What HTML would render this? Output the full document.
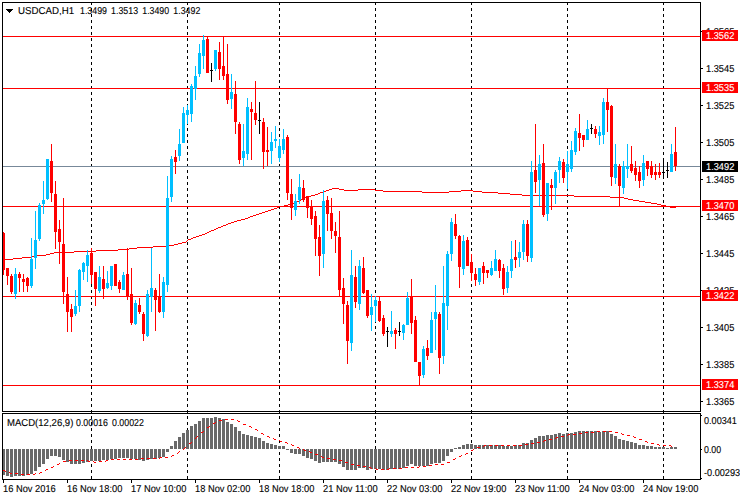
<!DOCTYPE html>
<html><head><meta charset="utf-8"><title>USDCAD,H1</title>
<style>
html,body{margin:0;padding:0;background:#fff;}
body{width:740px;height:500px;position:relative;overflow:hidden;font-family:"Liberation Sans",sans-serif;}
svg{position:absolute;left:0;top:0;}
.t{position:absolute;font-size:10px;line-height:10px;height:10px;margin-top:-0.5px;text-rendering:geometricPrecision;-webkit-text-stroke:0.12px;white-space:pre;transform-origin:0 0;}
.b{position:absolute;left:702px;width:36px;height:11px;}
</style></head><body>
<svg width="740" height="500" viewBox="0 0 740 500" shape-rendering="crispEdges">
<path d="M91.5 2V479" stroke="#000" stroke-width="1" stroke-dasharray="3 3" fill="none"/>
<path d="M187.5 2V479" stroke="#000" stroke-width="1" stroke-dasharray="3 3" fill="none"/>
<path d="M279.5 2V479" stroke="#000" stroke-width="1" stroke-dasharray="3 3" fill="none"/>
<path d="M375.5 2V479" stroke="#000" stroke-width="1" stroke-dasharray="3 3" fill="none"/>
<path d="M471.5 2V479" stroke="#000" stroke-width="1" stroke-dasharray="3 3" fill="none"/>
<path d="M567.5 2V479" stroke="#000" stroke-width="1" stroke-dasharray="3 3" fill="none"/>
<path d="M663.5 2V479" stroke="#000" stroke-width="1" stroke-dasharray="3 3" fill="none"/>
<rect x="3" y="36" width="697" height="1" fill="#f00"/>
<rect x="3" y="88" width="697" height="1" fill="#f00"/>
<rect x="3" y="206" width="697" height="1" fill="#f00"/>
<rect x="3" y="296" width="697" height="1" fill="#f00"/>
<rect x="3" y="385" width="697" height="1" fill="#f00"/>
<rect x="3" y="166" width="697" height="1" fill="#778899"/>
<rect x="3" y="259" width="10" height="1" fill="#f00"/>
<rect x="13" y="258" width="9" height="1" fill="#f00"/>
<rect x="22" y="257" width="10" height="1" fill="#f00"/>
<rect x="32" y="256" width="5" height="1" fill="#f00"/>
<rect x="37" y="255" width="9" height="1" fill="#f00"/>
<rect x="46" y="254" width="4" height="1" fill="#f00"/>
<rect x="50" y="253" width="4" height="1" fill="#f00"/>
<rect x="54" y="252" width="20" height="1" fill="#f00"/>
<rect x="74" y="251" width="22" height="1" fill="#f00"/>
<rect x="96" y="250" width="22" height="1" fill="#f00"/>
<rect x="118" y="249" width="11" height="1" fill="#f00"/>
<rect x="129" y="248" width="8" height="1" fill="#f00"/>
<rect x="137" y="247" width="16" height="1" fill="#f00"/>
<rect x="153" y="246" width="13" height="1" fill="#f00"/>
<rect x="166" y="245" width="8" height="1" fill="#f00"/>
<rect x="174" y="244" width="4" height="1" fill="#f00"/>
<rect x="178" y="243" width="4" height="1" fill="#f00"/>
<rect x="182" y="242" width="4" height="1" fill="#f00"/>
<rect x="186" y="241" width="1" height="1" fill="#f00"/>
<rect x="187" y="240" width="1" height="1" fill="#f00"/>
<rect x="188" y="239" width="3" height="1" fill="#f00"/>
<rect x="191" y="238" width="2" height="1" fill="#f00"/>
<rect x="193" y="237" width="3" height="1" fill="#f00"/>
<rect x="196" y="236" width="3" height="1" fill="#f00"/>
<rect x="199" y="235" width="3" height="1" fill="#f00"/>
<rect x="202" y="234" width="3" height="1" fill="#f00"/>
<rect x="205" y="233" width="2" height="1" fill="#f00"/>
<rect x="207" y="232" width="2" height="1" fill="#f00"/>
<rect x="209" y="231" width="2" height="1" fill="#f00"/>
<rect x="211" y="230" width="3" height="1" fill="#f00"/>
<rect x="214" y="229" width="2" height="1" fill="#f00"/>
<rect x="216" y="228" width="2" height="1" fill="#f00"/>
<rect x="218" y="227" width="3" height="1" fill="#f00"/>
<rect x="221" y="226" width="2" height="1" fill="#f00"/>
<rect x="223" y="225" width="3" height="1" fill="#f00"/>
<rect x="226" y="224" width="2" height="1" fill="#f00"/>
<rect x="228" y="223" width="3" height="1" fill="#f00"/>
<rect x="231" y="222" width="3" height="1" fill="#f00"/>
<rect x="234" y="221" width="3" height="1" fill="#f00"/>
<rect x="237" y="220" width="4" height="1" fill="#f00"/>
<rect x="241" y="219" width="4" height="1" fill="#f00"/>
<rect x="245" y="218" width="3" height="1" fill="#f00"/>
<rect x="248" y="217" width="2" height="1" fill="#f00"/>
<rect x="250" y="216" width="3" height="1" fill="#f00"/>
<rect x="253" y="215" width="3" height="1" fill="#f00"/>
<rect x="256" y="214" width="3" height="1" fill="#f00"/>
<rect x="259" y="213" width="3" height="1" fill="#f00"/>
<rect x="262" y="212" width="3" height="1" fill="#f00"/>
<rect x="265" y="211" width="3" height="1" fill="#f00"/>
<rect x="268" y="210" width="3" height="1" fill="#f00"/>
<rect x="271" y="209" width="3" height="1" fill="#f00"/>
<rect x="274" y="208" width="3" height="1" fill="#f00"/>
<rect x="277" y="207" width="2" height="1" fill="#f00"/>
<rect x="279" y="206" width="5" height="1" fill="#f00"/>
<rect x="284" y="205" width="4" height="1" fill="#f00"/>
<rect x="288" y="204" width="3" height="1" fill="#f00"/>
<rect x="291" y="203" width="3" height="1" fill="#f00"/>
<rect x="294" y="202" width="3" height="1" fill="#f00"/>
<rect x="297" y="201" width="2" height="1" fill="#f00"/>
<rect x="299" y="200" width="2" height="1" fill="#f00"/>
<rect x="301" y="199" width="2" height="1" fill="#f00"/>
<rect x="303" y="198" width="2" height="1" fill="#f00"/>
<rect x="305" y="197" width="2" height="1" fill="#f00"/>
<rect x="307" y="196" width="4" height="1" fill="#f00"/>
<rect x="311" y="195" width="4" height="1" fill="#f00"/>
<rect x="315" y="194" width="3" height="1" fill="#f00"/>
<rect x="318" y="193" width="2" height="1" fill="#f00"/>
<rect x="320" y="192" width="3" height="1" fill="#f00"/>
<rect x="323" y="191" width="3" height="1" fill="#f00"/>
<rect x="326" y="190" width="3" height="1" fill="#f00"/>
<rect x="329" y="189" width="3" height="1" fill="#f00"/>
<rect x="332" y="188" width="7" height="1" fill="#f00"/>
<rect x="339" y="189" width="5" height="1" fill="#f00"/>
<rect x="344" y="190" width="14" height="1" fill="#f00"/>
<rect x="358" y="189" width="17" height="1" fill="#f00"/>
<rect x="375" y="190" width="8" height="1" fill="#f00"/>
<rect x="383" y="191" width="39" height="1" fill="#f00"/>
<rect x="422" y="192" width="27" height="1" fill="#f00"/>
<rect x="449" y="191" width="12" height="1" fill="#f00"/>
<rect x="461" y="190" width="12" height="1" fill="#f00"/>
<rect x="473" y="191" width="9" height="1" fill="#f00"/>
<rect x="482" y="192" width="16" height="1" fill="#f00"/>
<rect x="498" y="193" width="12" height="1" fill="#f00"/>
<rect x="510" y="194" width="12" height="1" fill="#f00"/>
<rect x="522" y="195" width="52" height="1" fill="#f00"/>
<rect x="574" y="196" width="36" height="1" fill="#f00"/>
<rect x="610" y="197" width="14" height="1" fill="#f00"/>
<rect x="624" y="198" width="4" height="1" fill="#f00"/>
<rect x="628" y="199" width="5" height="1" fill="#f00"/>
<rect x="633" y="200" width="6" height="1" fill="#f00"/>
<rect x="639" y="201" width="6" height="1" fill="#f00"/>
<rect x="645" y="202" width="6" height="1" fill="#f00"/>
<rect x="651" y="203" width="6" height="1" fill="#f00"/>
<rect x="657" y="204" width="4" height="1" fill="#f00"/>
<rect x="661" y="205" width="5" height="1" fill="#f00"/>
<rect x="666" y="206" width="4" height="1" fill="#f00"/>
<rect x="670" y="207" width="6" height="1" fill="#f00"/>
<rect x="3" y="232" width="1" height="43" fill="#f00"/>
<rect x="2" y="233" width="3" height="37" fill="#f00"/>
<rect x="7" y="268" width="1" height="17" fill="#f00"/>
<rect x="6" y="268" width="3" height="8" fill="#f00"/>
<rect x="11" y="274" width="1" height="20" fill="#f00"/>
<rect x="10" y="276" width="3" height="16" fill="#f00"/>
<rect x="15" y="268" width="1" height="31" fill="#00bfff"/>
<rect x="14" y="274" width="3" height="20" fill="#00bfff"/>
<rect x="19" y="272" width="1" height="20" fill="#f00"/>
<rect x="18" y="274" width="3" height="4" fill="#f00"/>
<rect x="23" y="274" width="1" height="18" fill="#f00"/>
<rect x="22" y="279" width="3" height="3" fill="#f00"/>
<rect x="27" y="277" width="1" height="15" fill="#f00"/>
<rect x="26" y="278" width="3" height="8" fill="#f00"/>
<rect x="31" y="238" width="1" height="50" fill="#00bfff"/>
<rect x="30" y="259" width="3" height="27" fill="#00bfff"/>
<rect x="35" y="211" width="1" height="58" fill="#00bfff"/>
<rect x="34" y="240" width="3" height="18" fill="#00bfff"/>
<rect x="39" y="203" width="1" height="38" fill="#00bfff"/>
<rect x="38" y="205" width="3" height="34" fill="#00bfff"/>
<rect x="43" y="181" width="1" height="33" fill="#00bfff"/>
<rect x="42" y="200" width="3" height="4" fill="#00bfff"/>
<rect x="47" y="159" width="1" height="41" fill="#00bfff"/>
<rect x="46" y="159" width="3" height="40" fill="#00bfff"/>
<rect x="51" y="144" width="1" height="58" fill="#f00"/>
<rect x="50" y="161" width="3" height="32" fill="#f00"/>
<rect x="55" y="181" width="1" height="68" fill="#f00"/>
<rect x="54" y="194" width="3" height="38" fill="#f00"/>
<rect x="59" y="220" width="1" height="44" fill="#f00"/>
<rect x="58" y="229" width="3" height="13" fill="#f00"/>
<rect x="63" y="198" width="1" height="106" fill="#f00"/>
<rect x="62" y="244" width="3" height="48" fill="#f00"/>
<rect x="67" y="277" width="1" height="55" fill="#f00"/>
<rect x="66" y="294" width="3" height="18" fill="#f00"/>
<rect x="71" y="304" width="1" height="28" fill="#f00"/>
<rect x="70" y="309" width="3" height="8" fill="#f00"/>
<rect x="75" y="290" width="1" height="26" fill="#00bfff"/>
<rect x="74" y="306" width="3" height="8" fill="#00bfff"/>
<rect x="79" y="269" width="1" height="43" fill="#00bfff"/>
<rect x="78" y="270" width="3" height="36" fill="#00bfff"/>
<rect x="83" y="262" width="1" height="18" fill="#00bfff"/>
<rect x="82" y="263" width="3" height="9" fill="#00bfff"/>
<rect x="87" y="250" width="1" height="32" fill="#00bfff"/>
<rect x="86" y="255" width="3" height="11" fill="#00bfff"/>
<rect x="91" y="248" width="1" height="36" fill="#f00"/>
<rect x="90" y="253" width="3" height="22" fill="#f00"/>
<rect x="95" y="272" width="1" height="34" fill="#f00"/>
<rect x="94" y="272" width="3" height="17" fill="#f00"/>
<rect x="99" y="266" width="1" height="27" fill="#00bfff"/>
<rect x="98" y="277" width="3" height="14" fill="#00bfff"/>
<rect x="103" y="266" width="1" height="33" fill="#f00"/>
<rect x="102" y="279" width="3" height="10" fill="#f00"/>
<rect x="107" y="271" width="1" height="18" fill="#00bfff"/>
<rect x="106" y="283" width="3" height="5" fill="#00bfff"/>
<rect x="111" y="266" width="1" height="24" fill="#00bfff"/>
<rect x="110" y="266" width="3" height="20" fill="#00bfff"/>
<rect x="115" y="264" width="1" height="22" fill="#f00"/>
<rect x="114" y="264" width="3" height="22" fill="#f00"/>
<rect x="119" y="280" width="1" height="13" fill="#f00"/>
<rect x="118" y="282" width="3" height="7" fill="#f00"/>
<rect x="123" y="272" width="1" height="18" fill="#00bfff"/>
<rect x="122" y="275" width="3" height="15" fill="#00bfff"/>
<rect x="127" y="248" width="1" height="52" fill="#f00"/>
<rect x="126" y="274" width="3" height="22" fill="#f00"/>
<rect x="131" y="268" width="1" height="57" fill="#f00"/>
<rect x="130" y="294" width="3" height="29" fill="#f00"/>
<rect x="135" y="300" width="1" height="25" fill="#00bfff"/>
<rect x="134" y="303" width="3" height="21" fill="#00bfff"/>
<rect x="139" y="298" width="1" height="16" fill="#f00"/>
<rect x="138" y="305" width="3" height="7" fill="#f00"/>
<rect x="143" y="312" width="1" height="29" fill="#f00"/>
<rect x="142" y="314" width="3" height="20" fill="#f00"/>
<rect x="147" y="290" width="1" height="47" fill="#00bfff"/>
<rect x="146" y="294" width="3" height="42" fill="#00bfff"/>
<rect x="151" y="248" width="1" height="64" fill="#00bfff"/>
<rect x="150" y="288" width="3" height="9" fill="#00bfff"/>
<rect x="155" y="288" width="1" height="43" fill="#f00"/>
<rect x="154" y="290" width="3" height="10" fill="#f00"/>
<rect x="159" y="274" width="1" height="39" fill="#f00"/>
<rect x="158" y="297" width="3" height="15" fill="#f00"/>
<rect x="163" y="277" width="1" height="41" fill="#00bfff"/>
<rect x="162" y="282" width="3" height="30" fill="#00bfff"/>
<rect x="167" y="176" width="1" height="116" fill="#00bfff"/>
<rect x="166" y="198" width="3" height="87" fill="#00bfff"/>
<rect x="171" y="156" width="1" height="46" fill="#00bfff"/>
<rect x="170" y="159" width="3" height="38" fill="#00bfff"/>
<rect x="175" y="150" width="1" height="24" fill="#f00"/>
<rect x="174" y="157" width="3" height="5" fill="#f00"/>
<rect x="179" y="129" width="1" height="32" fill="#00bfff"/>
<rect x="178" y="144" width="3" height="12" fill="#00bfff"/>
<rect x="183" y="107" width="1" height="36" fill="#00bfff"/>
<rect x="182" y="113" width="3" height="30" fill="#00bfff"/>
<rect x="187" y="105" width="1" height="19" fill="#00bfff"/>
<rect x="186" y="110" width="3" height="5" fill="#00bfff"/>
<rect x="191" y="84" width="1" height="38" fill="#00bfff"/>
<rect x="190" y="86" width="3" height="28" fill="#00bfff"/>
<rect x="195" y="66" width="1" height="34" fill="#00bfff"/>
<rect x="194" y="76" width="3" height="13" fill="#00bfff"/>
<rect x="199" y="44" width="1" height="33" fill="#00bfff"/>
<rect x="198" y="53" width="3" height="21" fill="#00bfff"/>
<rect x="203" y="35" width="1" height="34" fill="#00bfff"/>
<rect x="202" y="40" width="3" height="16" fill="#00bfff"/>
<rect x="207" y="36" width="1" height="37" fill="#f00"/>
<rect x="206" y="39" width="3" height="34" fill="#f00"/>
<rect x="211" y="63" width="1" height="19" fill="#000"/>
<rect x="210" y="70" width="3" height="1" fill="#000"/>
<rect x="215" y="50" width="1" height="21" fill="#00bfff"/>
<rect x="214" y="50" width="3" height="19" fill="#00bfff"/>
<rect x="219" y="42" width="1" height="38" fill="#f00"/>
<rect x="218" y="52" width="3" height="17" fill="#f00"/>
<rect x="223" y="36" width="1" height="44" fill="#f00"/>
<rect x="222" y="66" width="3" height="10" fill="#f00"/>
<rect x="227" y="44" width="1" height="60" fill="#f00"/>
<rect x="226" y="74" width="3" height="26" fill="#f00"/>
<rect x="231" y="74" width="1" height="35" fill="#00bfff"/>
<rect x="230" y="92" width="3" height="7" fill="#00bfff"/>
<rect x="235" y="81" width="1" height="53" fill="#f00"/>
<rect x="234" y="94" width="3" height="28" fill="#f00"/>
<rect x="239" y="122" width="1" height="42" fill="#f00"/>
<rect x="238" y="124" width="3" height="36" fill="#f00"/>
<rect x="243" y="124" width="1" height="42" fill="#00bfff"/>
<rect x="242" y="151" width="3" height="7" fill="#00bfff"/>
<rect x="247" y="98" width="1" height="62" fill="#00bfff"/>
<rect x="246" y="107" width="3" height="47" fill="#00bfff"/>
<rect x="251" y="102" width="1" height="58" fill="#f00"/>
<rect x="250" y="109" width="3" height="3" fill="#f00"/>
<rect x="255" y="81" width="1" height="44" fill="#f00"/>
<rect x="254" y="113" width="3" height="7" fill="#f00"/>
<rect x="259" y="102" width="1" height="32" fill="#000"/>
<rect x="258" y="120" width="3" height="1" fill="#000"/>
<rect x="263" y="118" width="1" height="51" fill="#f00"/>
<rect x="262" y="122" width="3" height="30" fill="#f00"/>
<rect x="267" y="127" width="1" height="39" fill="#f00"/>
<rect x="266" y="150" width="3" height="2" fill="#f00"/>
<rect x="271" y="132" width="1" height="32" fill="#00bfff"/>
<rect x="270" y="142" width="3" height="9" fill="#00bfff"/>
<rect x="275" y="126" width="1" height="22" fill="#00bfff"/>
<rect x="274" y="139" width="3" height="2" fill="#00bfff"/>
<rect x="279" y="139" width="1" height="23" fill="#00bfff"/>
<rect x="278" y="146" width="3" height="12" fill="#00bfff"/>
<rect x="283" y="129" width="1" height="25" fill="#00bfff"/>
<rect x="282" y="139" width="3" height="11" fill="#00bfff"/>
<rect x="287" y="135" width="1" height="65" fill="#f00"/>
<rect x="286" y="137" width="3" height="56" fill="#f00"/>
<rect x="291" y="179" width="1" height="41" fill="#f00"/>
<rect x="290" y="194" width="3" height="14" fill="#f00"/>
<rect x="295" y="194" width="1" height="22" fill="#00bfff"/>
<rect x="294" y="201" width="3" height="9" fill="#00bfff"/>
<rect x="299" y="174" width="1" height="30" fill="#00bfff"/>
<rect x="298" y="187" width="3" height="13" fill="#00bfff"/>
<rect x="303" y="180" width="1" height="22" fill="#f00"/>
<rect x="302" y="188" width="3" height="12" fill="#f00"/>
<rect x="307" y="196" width="1" height="22" fill="#f00"/>
<rect x="306" y="196" width="3" height="12" fill="#f00"/>
<rect x="311" y="200" width="1" height="25" fill="#f00"/>
<rect x="310" y="207" width="3" height="12" fill="#f00"/>
<rect x="315" y="211" width="1" height="45" fill="#f00"/>
<rect x="314" y="216" width="3" height="23" fill="#f00"/>
<rect x="319" y="225" width="1" height="51" fill="#f00"/>
<rect x="318" y="237" width="3" height="19" fill="#f00"/>
<rect x="323" y="190" width="1" height="78" fill="#00bfff"/>
<rect x="322" y="201" width="3" height="53" fill="#00bfff"/>
<rect x="327" y="196" width="1" height="35" fill="#f00"/>
<rect x="326" y="200" width="3" height="14" fill="#f00"/>
<rect x="331" y="198" width="1" height="41" fill="#f00"/>
<rect x="330" y="213" width="3" height="18" fill="#f00"/>
<rect x="335" y="222" width="1" height="31" fill="#f00"/>
<rect x="334" y="231" width="3" height="5" fill="#f00"/>
<rect x="339" y="211" width="1" height="85" fill="#f00"/>
<rect x="338" y="237" width="3" height="53" fill="#f00"/>
<rect x="343" y="278" width="1" height="46" fill="#f00"/>
<rect x="342" y="288" width="3" height="16" fill="#f00"/>
<rect x="347" y="301" width="1" height="63" fill="#f00"/>
<rect x="346" y="305" width="3" height="36" fill="#f00"/>
<rect x="351" y="250" width="1" height="101" fill="#00bfff"/>
<rect x="350" y="275" width="3" height="68" fill="#00bfff"/>
<rect x="355" y="266" width="1" height="42" fill="#f00"/>
<rect x="354" y="277" width="3" height="25" fill="#f00"/>
<rect x="359" y="260" width="1" height="50" fill="#00bfff"/>
<rect x="358" y="266" width="3" height="38" fill="#00bfff"/>
<rect x="363" y="257" width="1" height="37" fill="#f00"/>
<rect x="362" y="268" width="3" height="25" fill="#f00"/>
<rect x="367" y="290" width="1" height="28" fill="#f00"/>
<rect x="366" y="290" width="3" height="26" fill="#f00"/>
<rect x="371" y="294" width="1" height="37" fill="#00bfff"/>
<rect x="370" y="307" width="3" height="8" fill="#00bfff"/>
<rect x="375" y="296" width="1" height="26" fill="#00bfff"/>
<rect x="374" y="300" width="3" height="6" fill="#00bfff"/>
<rect x="379" y="297" width="1" height="25" fill="#f00"/>
<rect x="378" y="301" width="3" height="20" fill="#f00"/>
<rect x="383" y="315" width="1" height="21" fill="#f00"/>
<rect x="382" y="318" width="3" height="16" fill="#f00"/>
<rect x="387" y="327" width="1" height="20" fill="#000"/>
<rect x="386" y="331" width="3" height="1" fill="#000"/>
<rect x="391" y="311" width="1" height="26" fill="#00bfff"/>
<rect x="390" y="331" width="3" height="3" fill="#00bfff"/>
<rect x="395" y="328" width="1" height="21" fill="#f00"/>
<rect x="394" y="330" width="3" height="4" fill="#f00"/>
<rect x="399" y="322" width="1" height="14" fill="#000"/>
<rect x="398" y="331" width="3" height="1" fill="#000"/>
<rect x="403" y="324" width="1" height="16" fill="#00bfff"/>
<rect x="402" y="325" width="3" height="8" fill="#00bfff"/>
<rect x="407" y="292" width="1" height="33" fill="#00bfff"/>
<rect x="406" y="298" width="3" height="27" fill="#00bfff"/>
<rect x="411" y="279" width="1" height="55" fill="#f00"/>
<rect x="410" y="297" width="3" height="26" fill="#f00"/>
<rect x="415" y="316" width="1" height="46" fill="#f00"/>
<rect x="414" y="320" width="3" height="42" fill="#f00"/>
<rect x="419" y="362" width="1" height="23" fill="#f00"/>
<rect x="418" y="362" width="3" height="14" fill="#f00"/>
<rect x="423" y="346" width="1" height="32" fill="#00bfff"/>
<rect x="422" y="349" width="3" height="26" fill="#00bfff"/>
<rect x="427" y="340" width="1" height="20" fill="#f00"/>
<rect x="426" y="348" width="3" height="8" fill="#f00"/>
<rect x="431" y="312" width="1" height="41" fill="#00bfff"/>
<rect x="430" y="320" width="3" height="33" fill="#00bfff"/>
<rect x="435" y="285" width="1" height="65" fill="#00bfff"/>
<rect x="434" y="312" width="3" height="7" fill="#00bfff"/>
<rect x="439" y="312" width="1" height="62" fill="#f00"/>
<rect x="438" y="314" width="3" height="44" fill="#f00"/>
<rect x="443" y="266" width="1" height="98" fill="#00bfff"/>
<rect x="442" y="303" width="3" height="53" fill="#00bfff"/>
<rect x="447" y="251" width="1" height="79" fill="#00bfff"/>
<rect x="446" y="254" width="3" height="52" fill="#00bfff"/>
<rect x="451" y="218" width="1" height="43" fill="#00bfff"/>
<rect x="450" y="222" width="3" height="32" fill="#00bfff"/>
<rect x="455" y="214" width="1" height="25" fill="#f00"/>
<rect x="454" y="224" width="3" height="12" fill="#f00"/>
<rect x="459" y="235" width="1" height="53" fill="#f00"/>
<rect x="458" y="236" width="3" height="31" fill="#f00"/>
<rect x="463" y="235" width="1" height="40" fill="#00bfff"/>
<rect x="462" y="241" width="3" height="28" fill="#00bfff"/>
<rect x="467" y="237" width="1" height="29" fill="#f00"/>
<rect x="466" y="240" width="3" height="26" fill="#f00"/>
<rect x="471" y="254" width="1" height="27" fill="#f00"/>
<rect x="470" y="262" width="3" height="11" fill="#f00"/>
<rect x="475" y="268" width="1" height="18" fill="#f00"/>
<rect x="474" y="274" width="3" height="6" fill="#f00"/>
<rect x="479" y="268" width="1" height="17" fill="#00bfff"/>
<rect x="478" y="268" width="3" height="14" fill="#00bfff"/>
<rect x="483" y="262" width="1" height="22" fill="#f00"/>
<rect x="482" y="266" width="3" height="7" fill="#f00"/>
<rect x="487" y="270" width="1" height="8" fill="#f00"/>
<rect x="486" y="270" width="3" height="3" fill="#f00"/>
<rect x="491" y="261" width="1" height="15" fill="#00bfff"/>
<rect x="490" y="268" width="3" height="7" fill="#00bfff"/>
<rect x="495" y="250" width="1" height="21" fill="#00bfff"/>
<rect x="494" y="259" width="3" height="12" fill="#00bfff"/>
<rect x="499" y="259" width="1" height="19" fill="#f00"/>
<rect x="498" y="260" width="3" height="11" fill="#f00"/>
<rect x="503" y="264" width="1" height="31" fill="#f00"/>
<rect x="502" y="268" width="3" height="21" fill="#f00"/>
<rect x="507" y="266" width="1" height="27" fill="#00bfff"/>
<rect x="506" y="272" width="3" height="16" fill="#00bfff"/>
<rect x="511" y="241" width="1" height="37" fill="#00bfff"/>
<rect x="510" y="259" width="3" height="12" fill="#00bfff"/>
<rect x="515" y="240" width="1" height="28" fill="#f00"/>
<rect x="514" y="257" width="3" height="3" fill="#f00"/>
<rect x="519" y="242" width="1" height="25" fill="#00bfff"/>
<rect x="518" y="252" width="3" height="6" fill="#00bfff"/>
<rect x="523" y="220" width="1" height="40" fill="#00bfff"/>
<rect x="522" y="224" width="3" height="28" fill="#00bfff"/>
<rect x="527" y="220" width="1" height="42" fill="#f00"/>
<rect x="526" y="224" width="3" height="32" fill="#f00"/>
<rect x="531" y="161" width="1" height="101" fill="#00bfff"/>
<rect x="530" y="172" width="3" height="86" fill="#00bfff"/>
<rect x="535" y="124" width="1" height="69" fill="#f00"/>
<rect x="534" y="170" width="3" height="12" fill="#f00"/>
<rect x="539" y="155" width="1" height="51" fill="#00bfff"/>
<rect x="538" y="164" width="3" height="16" fill="#00bfff"/>
<rect x="543" y="144" width="1" height="73" fill="#f00"/>
<rect x="542" y="163" width="3" height="52" fill="#f00"/>
<rect x="547" y="183" width="1" height="38" fill="#00bfff"/>
<rect x="546" y="183" width="3" height="31" fill="#00bfff"/>
<rect x="551" y="179" width="1" height="31" fill="#f00"/>
<rect x="550" y="185" width="3" height="3" fill="#f00"/>
<rect x="555" y="170" width="1" height="34" fill="#00bfff"/>
<rect x="554" y="172" width="3" height="16" fill="#00bfff"/>
<rect x="559" y="157" width="1" height="26" fill="#00bfff"/>
<rect x="558" y="161" width="3" height="9" fill="#00bfff"/>
<rect x="563" y="159" width="1" height="24" fill="#f00"/>
<rect x="562" y="162" width="3" height="16" fill="#f00"/>
<rect x="567" y="151" width="1" height="38" fill="#00bfff"/>
<rect x="566" y="164" width="3" height="8" fill="#00bfff"/>
<rect x="571" y="141" width="1" height="31" fill="#00bfff"/>
<rect x="570" y="150" width="3" height="19" fill="#00bfff"/>
<rect x="575" y="128" width="1" height="27" fill="#00bfff"/>
<rect x="574" y="131" width="3" height="21" fill="#00bfff"/>
<rect x="579" y="114" width="1" height="37" fill="#f00"/>
<rect x="578" y="133" width="3" height="5" fill="#f00"/>
<rect x="583" y="135" width="1" height="12" fill="#f00"/>
<rect x="582" y="135" width="3" height="5" fill="#f00"/>
<rect x="587" y="120" width="1" height="20" fill="#00bfff"/>
<rect x="586" y="129" width="3" height="11" fill="#00bfff"/>
<rect x="591" y="124" width="1" height="10" fill="#000"/>
<rect x="590" y="128" width="3" height="1" fill="#000"/>
<rect x="595" y="126" width="1" height="12" fill="#f00"/>
<rect x="594" y="129" width="3" height="5" fill="#f00"/>
<rect x="599" y="126" width="1" height="19" fill="#00bfff"/>
<rect x="598" y="132" width="3" height="4" fill="#00bfff"/>
<rect x="603" y="98" width="1" height="46" fill="#00bfff"/>
<rect x="602" y="102" width="3" height="33" fill="#00bfff"/>
<rect x="607" y="89" width="1" height="43" fill="#f00"/>
<rect x="606" y="102" width="3" height="8" fill="#f00"/>
<rect x="611" y="105" width="1" height="81" fill="#f00"/>
<rect x="610" y="106" width="3" height="71" fill="#f00"/>
<rect x="615" y="144" width="1" height="40" fill="#00bfff"/>
<rect x="614" y="164" width="3" height="14" fill="#00bfff"/>
<rect x="619" y="164" width="1" height="42" fill="#f00"/>
<rect x="618" y="166" width="3" height="20" fill="#f00"/>
<rect x="623" y="161" width="1" height="33" fill="#00bfff"/>
<rect x="622" y="166" width="3" height="22" fill="#00bfff"/>
<rect x="627" y="144" width="1" height="34" fill="#00bfff"/>
<rect x="626" y="166" width="3" height="3" fill="#00bfff"/>
<rect x="631" y="146" width="1" height="27" fill="#f00"/>
<rect x="630" y="164" width="3" height="7" fill="#f00"/>
<rect x="635" y="161" width="1" height="20" fill="#f00"/>
<rect x="634" y="168" width="3" height="7" fill="#f00"/>
<rect x="639" y="166" width="1" height="22" fill="#f00"/>
<rect x="638" y="172" width="3" height="9" fill="#f00"/>
<rect x="643" y="155" width="1" height="31" fill="#00bfff"/>
<rect x="642" y="163" width="3" height="17" fill="#00bfff"/>
<rect x="647" y="161" width="1" height="15" fill="#f00"/>
<rect x="646" y="161" width="3" height="8" fill="#f00"/>
<rect x="651" y="161" width="1" height="17" fill="#f00"/>
<rect x="650" y="166" width="3" height="9" fill="#f00"/>
<rect x="655" y="164" width="1" height="16" fill="#f00"/>
<rect x="654" y="172" width="3" height="3" fill="#f00"/>
<rect x="659" y="163" width="1" height="15" fill="#f00"/>
<rect x="658" y="172" width="3" height="3" fill="#f00"/>
<rect x="663" y="158" width="1" height="21" fill="#000"/>
<rect x="662" y="172" width="3" height="1" fill="#000"/>
<rect x="667" y="162" width="1" height="16" fill="#000"/>
<rect x="666" y="170" width="3" height="1" fill="#000"/>
<rect x="671" y="144" width="1" height="28" fill="#00bfff"/>
<rect x="670" y="154" width="3" height="18" fill="#00bfff"/>
<rect x="675" y="127" width="1" height="44" fill="#f00"/>
<rect x="674" y="152" width="3" height="14" fill="#f00"/>
<rect x="2" y="449" width="3" height="26" fill="#696969"/>
<rect x="6" y="449" width="3" height="27" fill="#696969"/>
<rect x="10" y="449" width="3" height="28" fill="#696969"/>
<rect x="14" y="449" width="3" height="27" fill="#696969"/>
<rect x="18" y="449" width="3" height="27" fill="#696969"/>
<rect x="22" y="449" width="3" height="27" fill="#696969"/>
<rect x="26" y="449" width="3" height="26" fill="#696969"/>
<rect x="30" y="449" width="3" height="25" fill="#696969"/>
<rect x="34" y="449" width="3" height="22" fill="#696969"/>
<rect x="38" y="449" width="3" height="18" fill="#696969"/>
<rect x="42" y="449" width="3" height="15" fill="#696969"/>
<rect x="46" y="449" width="3" height="10" fill="#696969"/>
<rect x="50" y="449" width="3" height="7" fill="#696969"/>
<rect x="54" y="449" width="3" height="7" fill="#696969"/>
<rect x="58" y="449" width="3" height="8" fill="#696969"/>
<rect x="62" y="449" width="3" height="11" fill="#696969"/>
<rect x="66" y="449" width="3" height="13" fill="#696969"/>
<rect x="70" y="449" width="3" height="15" fill="#696969"/>
<rect x="74" y="449" width="3" height="15" fill="#696969"/>
<rect x="78" y="449" width="3" height="15" fill="#696969"/>
<rect x="82" y="449" width="3" height="14" fill="#696969"/>
<rect x="86" y="449" width="3" height="13" fill="#696969"/>
<rect x="90" y="449" width="3" height="12" fill="#696969"/>
<rect x="94" y="449" width="3" height="12" fill="#696969"/>
<rect x="98" y="449" width="3" height="12" fill="#696969"/>
<rect x="102" y="449" width="3" height="11" fill="#696969"/>
<rect x="106" y="449" width="3" height="11" fill="#696969"/>
<rect x="110" y="449" width="3" height="10" fill="#696969"/>
<rect x="114" y="449" width="3" height="10" fill="#696969"/>
<rect x="118" y="449" width="3" height="9" fill="#696969"/>
<rect x="122" y="449" width="3" height="9" fill="#696969"/>
<rect x="126" y="449" width="3" height="9" fill="#696969"/>
<rect x="130" y="449" width="3" height="10" fill="#696969"/>
<rect x="134" y="449" width="3" height="10" fill="#696969"/>
<rect x="138" y="449" width="3" height="11" fill="#696969"/>
<rect x="142" y="449" width="3" height="12" fill="#696969"/>
<rect x="146" y="449" width="3" height="11" fill="#696969"/>
<rect x="150" y="449" width="3" height="10" fill="#696969"/>
<rect x="154" y="449" width="3" height="10" fill="#696969"/>
<rect x="158" y="449" width="3" height="9" fill="#696969"/>
<rect x="162" y="449" width="3" height="8" fill="#696969"/>
<rect x="166" y="449" width="3" height="3" fill="#696969"/>
<rect x="170" y="446" width="3" height="3" fill="#696969"/>
<rect x="174" y="441" width="3" height="8" fill="#696969"/>
<rect x="178" y="437" width="3" height="12" fill="#696969"/>
<rect x="182" y="433" width="3" height="16" fill="#696969"/>
<rect x="186" y="430" width="3" height="19" fill="#696969"/>
<rect x="190" y="426" width="3" height="23" fill="#696969"/>
<rect x="194" y="424" width="3" height="25" fill="#696969"/>
<rect x="198" y="421" width="3" height="28" fill="#696969"/>
<rect x="202" y="418" width="3" height="31" fill="#696969"/>
<rect x="206" y="418" width="3" height="31" fill="#696969"/>
<rect x="210" y="418" width="3" height="31" fill="#696969"/>
<rect x="214" y="417" width="3" height="32" fill="#696969"/>
<rect x="218" y="418" width="3" height="31" fill="#696969"/>
<rect x="222" y="419" width="3" height="30" fill="#696969"/>
<rect x="226" y="422" width="3" height="27" fill="#696969"/>
<rect x="230" y="424" width="3" height="25" fill="#696969"/>
<rect x="234" y="427" width="3" height="22" fill="#696969"/>
<rect x="238" y="431" width="3" height="18" fill="#696969"/>
<rect x="242" y="434" width="3" height="15" fill="#696969"/>
<rect x="246" y="435" width="3" height="14" fill="#696969"/>
<rect x="250" y="436" width="3" height="13" fill="#696969"/>
<rect x="254" y="437" width="3" height="12" fill="#696969"/>
<rect x="258" y="438" width="3" height="11" fill="#696969"/>
<rect x="262" y="441" width="3" height="8" fill="#696969"/>
<rect x="266" y="443" width="3" height="6" fill="#696969"/>
<rect x="270" y="444" width="3" height="5" fill="#696969"/>
<rect x="274" y="445" width="3" height="4" fill="#696969"/>
<rect x="278" y="446" width="3" height="3" fill="#696969"/>
<rect x="282" y="446" width="3" height="3" fill="#696969"/>
<rect x="286" y="449" width="3" height="1" fill="#696969"/>
<rect x="290" y="449" width="3" height="4" fill="#696969"/>
<rect x="294" y="449" width="3" height="5" fill="#696969"/>
<rect x="298" y="449" width="3" height="5" fill="#696969"/>
<rect x="302" y="449" width="3" height="7" fill="#696969"/>
<rect x="306" y="449" width="3" height="9" fill="#696969"/>
<rect x="310" y="449" width="3" height="10" fill="#696969"/>
<rect x="314" y="449" width="3" height="12" fill="#696969"/>
<rect x="318" y="449" width="3" height="14" fill="#696969"/>
<rect x="322" y="449" width="3" height="13" fill="#696969"/>
<rect x="326" y="449" width="3" height="13" fill="#696969"/>
<rect x="330" y="449" width="3" height="13" fill="#696969"/>
<rect x="334" y="449" width="3" height="13" fill="#696969"/>
<rect x="338" y="449" width="3" height="15" fill="#696969"/>
<rect x="342" y="449" width="3" height="18" fill="#696969"/>
<rect x="346" y="449" width="3" height="21" fill="#696969"/>
<rect x="350" y="449" width="3" height="21" fill="#696969"/>
<rect x="354" y="449" width="3" height="21" fill="#696969"/>
<rect x="358" y="449" width="3" height="19" fill="#696969"/>
<rect x="362" y="449" width="3" height="19" fill="#696969"/>
<rect x="366" y="449" width="3" height="21" fill="#696969"/>
<rect x="370" y="449" width="3" height="20" fill="#696969"/>
<rect x="374" y="449" width="3" height="20" fill="#696969"/>
<rect x="378" y="449" width="3" height="20" fill="#696969"/>
<rect x="382" y="449" width="3" height="21" fill="#696969"/>
<rect x="386" y="449" width="3" height="21" fill="#696969"/>
<rect x="390" y="449" width="3" height="20" fill="#696969"/>
<rect x="394" y="449" width="3" height="20" fill="#696969"/>
<rect x="398" y="449" width="3" height="20" fill="#696969"/>
<rect x="402" y="449" width="3" height="19" fill="#696969"/>
<rect x="406" y="449" width="3" height="17" fill="#696969"/>
<rect x="410" y="449" width="3" height="15" fill="#696969"/>
<rect x="414" y="449" width="3" height="17" fill="#696969"/>
<rect x="418" y="449" width="3" height="17" fill="#696969"/>
<rect x="422" y="449" width="3" height="17" fill="#696969"/>
<rect x="426" y="449" width="3" height="17" fill="#696969"/>
<rect x="430" y="449" width="3" height="15" fill="#696969"/>
<rect x="434" y="449" width="3" height="14" fill="#696969"/>
<rect x="438" y="449" width="3" height="14" fill="#696969"/>
<rect x="442" y="449" width="3" height="12" fill="#696969"/>
<rect x="446" y="449" width="3" height="7" fill="#696969"/>
<rect x="450" y="449" width="3" height="3" fill="#696969"/>
<rect x="454" y="448" width="3" height="1" fill="#696969"/>
<rect x="458" y="447" width="3" height="2" fill="#696969"/>
<rect x="462" y="445" width="3" height="4" fill="#696969"/>
<rect x="466" y="444" width="3" height="5" fill="#696969"/>
<rect x="470" y="444" width="3" height="5" fill="#696969"/>
<rect x="474" y="445" width="3" height="4" fill="#696969"/>
<rect x="478" y="445" width="3" height="4" fill="#696969"/>
<rect x="482" y="445" width="3" height="4" fill="#696969"/>
<rect x="486" y="445" width="3" height="4" fill="#696969"/>
<rect x="490" y="445" width="3" height="4" fill="#696969"/>
<rect x="494" y="445" width="3" height="4" fill="#696969"/>
<rect x="498" y="445" width="3" height="4" fill="#696969"/>
<rect x="502" y="446" width="3" height="3" fill="#696969"/>
<rect x="506" y="446" width="3" height="3" fill="#696969"/>
<rect x="510" y="446" width="3" height="3" fill="#696969"/>
<rect x="514" y="445" width="3" height="4" fill="#696969"/>
<rect x="518" y="445" width="3" height="4" fill="#696969"/>
<rect x="522" y="443" width="3" height="6" fill="#696969"/>
<rect x="526" y="443" width="3" height="6" fill="#696969"/>
<rect x="530" y="440" width="3" height="9" fill="#696969"/>
<rect x="534" y="438" width="3" height="11" fill="#696969"/>
<rect x="538" y="436" width="3" height="13" fill="#696969"/>
<rect x="542" y="436" width="3" height="13" fill="#696969"/>
<rect x="546" y="435" width="3" height="14" fill="#696969"/>
<rect x="550" y="435" width="3" height="14" fill="#696969"/>
<rect x="554" y="434" width="3" height="15" fill="#696969"/>
<rect x="558" y="433" width="3" height="16" fill="#696969"/>
<rect x="562" y="434" width="3" height="15" fill="#696969"/>
<rect x="566" y="433" width="3" height="16" fill="#696969"/>
<rect x="570" y="433" width="3" height="16" fill="#696969"/>
<rect x="574" y="432" width="3" height="17" fill="#696969"/>
<rect x="578" y="431" width="3" height="18" fill="#696969"/>
<rect x="582" y="431" width="3" height="18" fill="#696969"/>
<rect x="586" y="431" width="3" height="18" fill="#696969"/>
<rect x="590" y="431" width="3" height="18" fill="#696969"/>
<rect x="594" y="431" width="3" height="18" fill="#696969"/>
<rect x="598" y="432" width="3" height="17" fill="#696969"/>
<rect x="602" y="431" width="3" height="18" fill="#696969"/>
<rect x="606" y="431" width="3" height="18" fill="#696969"/>
<rect x="610" y="434" width="3" height="15" fill="#696969"/>
<rect x="614" y="436" width="3" height="13" fill="#696969"/>
<rect x="618" y="439" width="3" height="10" fill="#696969"/>
<rect x="622" y="440" width="3" height="9" fill="#696969"/>
<rect x="626" y="441" width="3" height="8" fill="#696969"/>
<rect x="630" y="442" width="3" height="7" fill="#696969"/>
<rect x="634" y="443" width="3" height="6" fill="#696969"/>
<rect x="638" y="445" width="3" height="4" fill="#696969"/>
<rect x="642" y="445" width="3" height="4" fill="#696969"/>
<rect x="646" y="446" width="3" height="3" fill="#696969"/>
<rect x="650" y="446" width="3" height="3" fill="#696969"/>
<rect x="654" y="447" width="3" height="2" fill="#696969"/>
<rect x="658" y="447" width="3" height="2" fill="#696969"/>
<rect x="662" y="447" width="3" height="2" fill="#696969"/>
<rect x="666" y="448" width="3" height="1" fill="#696969"/>
<rect x="670" y="447" width="3" height="2" fill="#696969"/>
<rect x="674" y="447" width="3" height="2" fill="#696969"/>
<path d="M3 470h1v1h-1zM4 470h1v1h-1zM5 471h1v1h-1zM9 472h1v1h-1zM10 473h1v1h-1zM11 473h1v1h-1zM15 473h1v1h-1zM16 473h1v1h-1zM17 473h1v1h-1zM21 474h1v1h-1zM22 474h1v1h-1zM23 474h1v1h-1zM27 474h1v1h-1zM28 474h1v1h-1zM29 474h1v1h-1zM33 474h1v1h-1zM34 474h1v1h-1zM35 473h1v1h-1zM39 473h1v1h-1zM40 472h1v1h-1zM41 472h1v1h-1zM45 470h1v1h-1zM46 469h1v1h-1zM47 469h1v1h-1zM51 467h1v1h-1zM52 467h1v1h-1zM53 466h1v1h-1zM57 464h1v1h-1zM58 464h1v1h-1zM59 463h1v1h-1zM63 461h1v1h-1zM64 461h1v1h-1zM65 461h1v1h-1zM69 460h1v1h-1zM70 460h1v1h-1zM71 460h1v1h-1zM75 460h1v1h-1zM76 460h1v1h-1zM77 460h1v1h-1zM81 460h1v1h-1zM82 460h1v1h-1zM83 460h1v1h-1zM87 460h1v1h-1zM88 461h1v1h-1zM89 461h1v1h-1zM93 461h1v1h-1zM94 462h1v1h-1zM95 462h1v1h-1zM99 461h1v1h-1zM100 461h1v1h-1zM101 461h1v1h-1zM105 461h1v1h-1zM106 460h1v1h-1zM107 460h1v1h-1zM111 459h1v1h-1zM112 459h1v1h-1zM113 459h1v1h-1zM117 459h1v1h-1zM118 459h1v1h-1zM119 459h1v1h-1zM123 459h1v1h-1zM124 459h1v1h-1zM125 459h1v1h-1zM129 459h1v1h-1zM130 459h1v1h-1zM131 459h1v1h-1zM135 459h1v1h-1zM136 459h1v1h-1zM137 459h1v1h-1zM141 458h1v1h-1zM142 458h1v1h-1zM143 458h1v1h-1zM147 458h1v1h-1zM148 458h1v1h-1zM149 458h1v1h-1zM153 458h1v1h-1zM154 458h1v1h-1zM155 458h1v1h-1zM159 458h1v1h-1zM160 457h1v1h-1zM161 457h1v1h-1zM165 457h1v1h-1zM166 457h1v1h-1zM167 457h1v1h-1zM171 456h1v1h-1zM172 455h1v1h-1zM173 455h1v1h-1zM177 453h1v1h-1zM178 452h1v1h-1zM179 451h1v1h-1zM183 449h1v1h-1zM184 448h1v1h-1zM185 447h1v1h-1zM189 443h1v1h-1zM190 443h1v1h-1zM191 442h1v1h-1zM195 438h1v1h-1zM196 437h1v1h-1zM197 436h1v1h-1zM201 432h1v1h-1zM202 432h1v1h-1zM203 431h1v1h-1zM207 427h1v1h-1zM208 427h1v1h-1zM209 426h1v1h-1zM213 423h1v1h-1zM214 423h1v1h-1zM215 422h1v1h-1zM219 420h1v1h-1zM220 420h1v1h-1zM221 420h1v1h-1zM225 419h1v1h-1zM226 419h1v1h-1zM227 419h1v1h-1zM231 419h1v1h-1zM232 419h1v1h-1zM233 419h1v1h-1zM237 420h1v1h-1zM238 421h1v1h-1zM239 421h1v1h-1zM243 424h1v1h-1zM244 424h1v1h-1zM245 424h1v1h-1zM249 426h1v1h-1zM250 426h1v1h-1zM251 427h1v1h-1zM255 429h1v1h-1zM256 429h1v1h-1zM257 430h1v1h-1zM261 433h1v1h-1zM262 433h1v1h-1zM263 434h1v1h-1zM267 436h1v1h-1zM268 436h1v1h-1zM269 437h1v1h-1zM273 438h1v1h-1zM274 439h1v1h-1zM275 439h1v1h-1zM279 440h1v1h-1zM280 441h1v1h-1zM281 441h1v1h-1zM285 442h1v1h-1zM286 442h1v1h-1zM287 443h1v1h-1zM291 444h1v1h-1zM292 445h1v1h-1zM293 445h1v1h-1zM297 447h1v1h-1zM298 447h1v1h-1zM299 448h1v1h-1zM303 449h1v1h-1zM304 450h1v1h-1zM305 450h1v1h-1zM309 451h1v1h-1zM310 452h1v1h-1zM311 452h1v1h-1zM315 454h1v1h-1zM316 454h1v1h-1zM317 454h1v1h-1zM321 456h1v1h-1zM322 457h1v1h-1zM323 457h1v1h-1zM327 458h1v1h-1zM328 458h1v1h-1zM329 458h1v1h-1zM333 459h1v1h-1zM334 459h1v1h-1zM335 459h1v1h-1zM339 460h1v1h-1zM340 460h1v1h-1zM341 460h1v1h-1zM345 462h1v1h-1zM346 462h1v1h-1zM347 462h1v1h-1zM351 464h1v1h-1zM352 464h1v1h-1zM353 464h1v1h-1zM357 465h1v1h-1zM358 465h1v1h-1zM359 465h1v1h-1zM363 466h1v1h-1zM364 466h1v1h-1zM365 466h1v1h-1zM369 467h1v1h-1zM370 467h1v1h-1zM371 468h1v1h-1zM375 468h1v1h-1zM376 469h1v1h-1zM377 469h1v1h-1zM381 469h1v1h-1zM382 469h1v1h-1zM383 469h1v1h-1zM387 469h1v1h-1zM388 469h1v1h-1zM389 468h1v1h-1zM393 468h1v1h-1zM394 468h1v1h-1zM395 468h1v1h-1zM399 468h1v1h-1zM400 468h1v1h-1zM401 468h1v1h-1zM405 467h1v1h-1zM406 467h1v1h-1zM407 467h1v1h-1zM411 467h1v1h-1zM412 467h1v1h-1zM413 467h1v1h-1zM417 467h1v1h-1zM418 467h1v1h-1zM419 466h1v1h-1zM423 466h1v1h-1zM424 466h1v1h-1zM425 466h1v1h-1zM429 465h1v1h-1zM430 465h1v1h-1zM431 465h1v1h-1zM435 464h1v1h-1zM436 464h1v1h-1zM437 464h1v1h-1zM441 464h1v1h-1zM442 464h1v1h-1zM443 464h1v1h-1zM447 462h1v1h-1zM448 462h1v1h-1zM449 462h1v1h-1zM453 459h1v1h-1zM454 459h1v1h-1zM455 458h1v1h-1zM459 456h1v1h-1zM460 456h1v1h-1zM461 455h1v1h-1zM465 454h1v1h-1zM466 453h1v1h-1zM467 453h1v1h-1zM471 450h1v1h-1zM472 450h1v1h-1zM473 449h1v1h-1zM477 447h1v1h-1zM478 447h1v1h-1zM479 447h1v1h-1zM483 446h1v1h-1zM484 445h1v1h-1zM485 445h1v1h-1zM489 445h1v1h-1zM490 445h1v1h-1zM491 445h1v1h-1zM495 445h1v1h-1zM496 445h1v1h-1zM497 445h1v1h-1zM501 445h1v1h-1zM502 445h1v1h-1zM503 445h1v1h-1zM507 445h1v1h-1zM508 445h1v1h-1zM509 445h1v1h-1zM513 445h1v1h-1zM514 445h1v1h-1zM515 445h1v1h-1zM519 445h1v1h-1zM520 445h1v1h-1zM521 445h1v1h-1zM525 444h1v1h-1zM526 444h1v1h-1zM527 444h1v1h-1zM531 443h1v1h-1zM532 443h1v1h-1zM533 443h1v1h-1zM537 442h1v1h-1zM538 442h1v1h-1zM539 442h1v1h-1zM543 441h1v1h-1zM544 440h1v1h-1zM545 440h1v1h-1zM549 439h1v1h-1zM550 439h1v1h-1zM551 439h1v1h-1zM555 438h1v1h-1zM556 437h1v1h-1zM557 437h1v1h-1zM561 436h1v1h-1zM562 436h1v1h-1zM563 436h1v1h-1zM567 435h1v1h-1zM568 434h1v1h-1zM569 434h1v1h-1zM573 434h1v1h-1zM574 434h1v1h-1zM575 434h1v1h-1zM579 433h1v1h-1zM580 433h1v1h-1zM581 433h1v1h-1zM585 432h1v1h-1zM586 432h1v1h-1zM587 432h1v1h-1zM591 432h1v1h-1zM592 432h1v1h-1zM593 432h1v1h-1zM597 431h1v1h-1zM598 431h1v1h-1zM599 431h1v1h-1zM603 431h1v1h-1zM604 431h1v1h-1zM605 431h1v1h-1zM609 431h1v1h-1zM610 431h1v1h-1zM611 431h1v1h-1zM615 432h1v1h-1zM616 432h1v1h-1zM617 432h1v1h-1zM621 433h1v1h-1zM622 434h1v1h-1zM623 434h1v1h-1zM627 435h1v1h-1zM628 435h1v1h-1zM629 435h1v1h-1zM633 436h1v1h-1zM634 437h1v1h-1zM635 437h1v1h-1zM639 439h1v1h-1zM640 439h1v1h-1zM641 439h1v1h-1zM645 441h1v1h-1zM646 441h1v1h-1zM647 442h1v1h-1zM651 443h1v1h-1zM652 443h1v1h-1zM653 443h1v1h-1zM657 444h1v1h-1zM658 444h1v1h-1zM659 445h1v1h-1zM663 445h1v1h-1zM664 445h1v1h-1zM665 445h1v1h-1zM669 445h1v1h-1zM670 445h1v1h-1zM671 446h1v1h-1z" fill="#f00"/>
<rect x="2" y="2" width="699" height="1" fill="#000"/>
<rect x="2" y="2" width="1" height="410" fill="#000"/>
<rect x="2" y="411" width="699" height="1" fill="#000"/>
<rect x="700" y="2" width="1" height="410" fill="#000"/>
<rect x="2" y="413" width="699" height="1" fill="#000"/>
<rect x="2" y="413" width="1" height="67" fill="#000"/>
<rect x="2" y="479" width="699" height="1" fill="#000"/>
<rect x="700" y="413" width="1" height="67" fill="#000"/>
<rect x="701" y="31" width="2" height="1" fill="#000"/>
<rect x="701" y="68" width="2" height="1" fill="#000"/>
<rect x="701" y="105" width="2" height="1" fill="#000"/>
<rect x="701" y="142" width="2" height="1" fill="#000"/>
<rect x="701" y="179" width="2" height="1" fill="#000"/>
<rect x="701" y="216" width="2" height="1" fill="#000"/>
<rect x="701" y="253" width="2" height="1" fill="#000"/>
<rect x="701" y="290" width="2" height="1" fill="#000"/>
<rect x="701" y="327" width="2" height="1" fill="#000"/>
<rect x="701" y="364" width="2" height="1" fill="#000"/>
<rect x="701" y="401" width="2" height="1" fill="#000"/>
<rect x="701" y="415" width="1" height="1" fill="#000"/>
<rect x="701" y="449" width="1" height="1" fill="#000"/>
<rect x="701" y="478" width="1" height="1" fill="#000"/>
<rect x="3" y="480" width="1" height="3" fill="#000"/>
<rect x="67" y="480" width="1" height="3" fill="#000"/>
<rect x="131" y="480" width="1" height="3" fill="#000"/>
<rect x="195" y="480" width="1" height="3" fill="#000"/>
<rect x="259" y="480" width="1" height="3" fill="#000"/>
<rect x="323" y="480" width="1" height="3" fill="#000"/>
<rect x="387" y="480" width="1" height="3" fill="#000"/>
<rect x="451" y="480" width="1" height="3" fill="#000"/>
<rect x="515" y="480" width="1" height="3" fill="#000"/>
<rect x="579" y="480" width="1" height="3" fill="#000"/>
<rect x="643" y="480" width="1" height="3" fill="#000"/>
<path d="M6 9h7v1h-1v1h-1v1h-1v1h-1v-1h-1v-1h-1v-1h-1z" fill="#000"/>
</svg>
<div class="t" style="left:705.8px;top:28px;color:#000;transform:scaleX(0.925);word-spacing:0px;">1.3565</div>
<div class="t" style="left:705.8px;top:65px;color:#000;transform:scaleX(0.925);word-spacing:0px;">1.3545</div>
<div class="t" style="left:705.8px;top:102px;color:#000;transform:scaleX(0.925);word-spacing:0px;">1.3525</div>
<div class="t" style="left:705.8px;top:139px;color:#000;transform:scaleX(0.925);word-spacing:0px;">1.3505</div>
<div class="t" style="left:705.8px;top:176px;color:#000;transform:scaleX(0.925);word-spacing:0px;">1.3485</div>
<div class="t" style="left:705.8px;top:213px;color:#000;transform:scaleX(0.925);word-spacing:0px;">1.3465</div>
<div class="t" style="left:705.8px;top:250px;color:#000;transform:scaleX(0.925);word-spacing:0px;">1.3445</div>
<div class="t" style="left:705.8px;top:287px;color:#000;transform:scaleX(0.925);word-spacing:0px;">1.3425</div>
<div class="t" style="left:705.8px;top:324px;color:#000;transform:scaleX(0.925);word-spacing:0px;">1.3405</div>
<div class="t" style="left:705.8px;top:361px;color:#000;transform:scaleX(0.925);word-spacing:0px;">1.3385</div>
<div class="t" style="left:705.8px;top:398px;color:#000;transform:scaleX(0.925);word-spacing:0px;">1.3365</div>
<div class="b" style="top:30px;background:#f00"></div>
<div class="t" style="left:705.8px;top:32px;color:#fff;transform:scaleX(0.925);word-spacing:0px;">1.3562</div>
<div class="b" style="top:82px;background:#f00"></div>
<div class="t" style="left:705.8px;top:84px;color:#fff;transform:scaleX(0.925);word-spacing:0px;">1.3535</div>
<div class="b" style="top:200px;background:#f00"></div>
<div class="t" style="left:705.8px;top:202px;color:#fff;transform:scaleX(0.925);word-spacing:0px;">1.3470</div>
<div class="b" style="top:290px;background:#f00"></div>
<div class="t" style="left:705.8px;top:292px;color:#fff;transform:scaleX(0.925);word-spacing:0px;">1.3422</div>
<div class="b" style="top:379px;background:#f00"></div>
<div class="t" style="left:705.8px;top:381px;color:#fff;transform:scaleX(0.925);word-spacing:0px;">1.3374</div>
<div class="b" style="top:161px;background:#000"></div>
<div class="t" style="left:705.8px;top:163px;color:#fff;transform:scaleX(0.925);word-spacing:0px;">1.3492</div>
<div class="t" style="left:704.2px;top:417px;color:#000;transform:scaleX(0.91);word-spacing:0px;">0.00341</div>
<div class="t" style="left:704.2px;top:446px;color:#000;transform:scaleX(0.88);word-spacing:0px;">0.00</div>
<div class="t" style="left:704.2px;top:469px;color:#000;transform:scaleX(0.915);word-spacing:0px;">-0.00293</div>
<div class="t" style="left:2.6px;top:485px;color:#000;transform:scaleX(0.93);word-spacing:0px;">16 Nov 2016</div>
<div class="t" style="left:66.6px;top:485px;color:#000;transform:scaleX(0.93);word-spacing:0px;">16 Nov 18:00</div>
<div class="t" style="left:130.6px;top:485px;color:#000;transform:scaleX(0.93);word-spacing:0px;">17 Nov 10:00</div>
<div class="t" style="left:194.6px;top:485px;color:#000;transform:scaleX(0.93);word-spacing:0px;">18 Nov 02:00</div>
<div class="t" style="left:258.6px;top:485px;color:#000;transform:scaleX(0.93);word-spacing:0px;">18 Nov 18:00</div>
<div class="t" style="left:322.6px;top:485px;color:#000;transform:scaleX(0.93);word-spacing:0px;">21 Nov 11:00</div>
<div class="t" style="left:386.6px;top:485px;color:#000;transform:scaleX(0.93);word-spacing:0px;">22 Nov 03:00</div>
<div class="t" style="left:450.6px;top:485px;color:#000;transform:scaleX(0.93);word-spacing:0px;">22 Nov 19:00</div>
<div class="t" style="left:514.6px;top:485px;color:#000;transform:scaleX(0.93);word-spacing:0px;">23 Nov 11:00</div>
<div class="t" style="left:578.6px;top:485px;color:#000;transform:scaleX(0.93);word-spacing:0px;">24 Nov 03:00</div>
<div class="t" style="left:642.6px;top:485px;color:#000;transform:scaleX(0.93);word-spacing:0px;">24 Nov 19:00</div>
<div class="t" style="left:18.4px;top:7px;color:#000;transform:scaleX(0.97);word-spacing:0px;">USDCAD,H1</div>
<div class="t" style="left:80.3px;top:7px;color:#000;transform:scaleX(0.88);word-spacing:2.0px;">1.3499 1.3513 1.3490 1.3492</div>
<div class="t" style="left:7.2px;top:419px;color:#000;transform:scaleX(0.955);word-spacing:0px;">MACD(12,26,9)</div>
<div class="t" style="left:75.6px;top:419px;color:#000;transform:scaleX(0.88);word-spacing:2.0px;">0.00016 0.00022</div>
</body></html>
